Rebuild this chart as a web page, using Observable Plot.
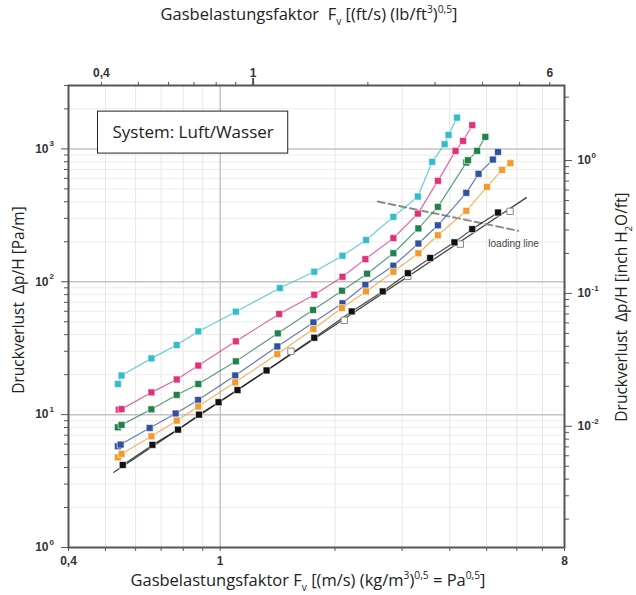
<!DOCTYPE html>
<html><head><meta charset="utf-8">
<script src="https://cdn.jsdelivr.net/npm/d3@7"></script>
<script src="https://cdn.jsdelivr.net/npm/@observablehq/plot@0.6"></script>
<style>body{margin:0;background:#fff} #chart svg{display:block}</style>
</head><body><div id="chart"></div><script>
// ---- data ----
const seriesNames  = ["Serie 1","Serie 2","Serie 3","Serie 4","Serie 5","Serie 6"];
const seriesColors = ["#35bccb","#e0307a","#23804a","#33509f","#f39a2e","#111111"];
const s1X = [0.539,0.551,0.660,0.769,0.876,1.099,1.434,1.765,2.093,2.413,2.846,3.30,3.598,3.878,3.971,4.18];
const s1Y = [17.0,19.7,26.5,33.4,42.3,59.5,89.7,119,157,206,308,438,799,1085,1274,1719];
const s2X = [0.542,0.551,0.660,0.769,0.876,1.099,1.428,1.765,2.093,2.403,2.846,3.30,3.724,4.142,4.334,4.583];
const s2Y = [10.9,11.0,14.7,18.4,23.4,35.6,57.2,79.9,109,148,213,326,575,966,1148,1508];
const s3X = [0.539,0.551,0.660,0.769,0.876,1.099,1.416,1.752,2.087,2.428,2.846,3.31,3.724,4.421,4.466,4.72,4.96];
const s3Y = [8.03,8.37,10.96,14.07,17.0,25.2,40.9,61.3,85.6,115,164,252,366,789,822,966,1231];
const s4X = [0.539,0.548,0.653,0.764,0.875,1.095,1.412,1.756,2.093,2.403,2.846,3.31,3.724,4.421,4.76,5.19,5.354];
const s4Y = [5.78,5.95,7.94,10.2,12.9,19.7,32.6,49.4,68.9,94.9,132,194,266,467,649,831,949];
const s5X = [0.539,0.551,0.660,0.769,0.876,1.095,1.412,1.756,2.085,2.413,2.846,3.31,3.724,4.421,5.009,5.487,5.77];
const s5Y = [4.77,5.06,6.87,9.01,11.5,17.5,28.6,44.1,63.4,84.6,119,164,224,342,518,695,781];
const s6X = [0.555,0.664,0.775,0.880,0.990,1.110,1.323,1.765,2.213,2.669,3.106,3.555,4.116,4.583,5.354];
const s6Y = [4.18,5.92,7.71,10.0,12.4,15.3,21.5,37.9,59.8,84.6,116,151,198,249,332];
const openX = [1.533,2.116,3.106,4.263,5.758];
const openY = [30.0,51.3,110,192,339];
const fitX  = [0.526,6.356];
const fitY  = [3.68,430];
const loadX = [2.59,6.045];
const loadY = [402,242];
const loadLabel = {x: 5.05, y: 193, text: "loading line"};
const boxRect  = {x1: 0.478, x2: 1.508, y1: 922, y2: 1908};
const boxText  = {x: 0.849, y: 1326, text: "System: Luft/Wasser"};

// ---- axes ----
const bottomTicks = [0.4,0.5,0.6,0.7,0.8,0.9,1,2,3,4,5,6,7,8];
const bottomLabelVals = [0.4,1,8];
const bottomLabels = ["0,4","1","8"];
const topTicks = [0.4,0.5,0.6,0.7,0.8,0.9,1,2,3,4,5,6];
const topLabelVals = [0.4,1,6];
const topLabels = ["0,4","1","6"];
const ftPerPa = 0.8197;       // 1 Pa^0.5 = 0.8197 (ft/s)(lb/ft3)^0.5
const leftMajor = [1,10,100,1000];
const leftExp = ["0","1","2","3"];
const leftMinor = [2,3,4,5,6,7,8,9,20,30,40,50,60,70,80,90,200,300,400,500,600,700,800,900,2000,3000];
const rightMajor = [0.01,0.1,1];
const rightExp = ["-2","-1","0"];
const rightMinor = [0.002,0.003,0.004,0.005,0.006,0.007,0.008,0.009,0.02,0.03,0.04,0.05,0.06,0.07,0.08,0.09,0.2,0.3,0.4,0.5,0.6,0.7,0.8,0.9,2,3];
const paPerInch = 817.2;      // 1 inch H2O/ft = 817.2 Pa/m
const gridMinorX = [0.5,0.6,0.7,0.8,0.9,2,3,4,5,6,7];
const gridMajorX = [1];
const gridMajorY = [10,100,1000];
const gridMinorY = leftMinor;

const titleTop = [["Gasbelastungsfaktor\u00A0 F","n"],["v","sub"],[" [(ft/s) (lb/ft","n"],["3","sup"],[")","n"],["0,5","sup"],["]","n"]];
const titleBottom = [["Gasbelastungsfaktor F","n"],["v","sub"],[" [(m/s) (kg/m","n"],["3","sup"],[")","n"],["0,5","sup"],[" = Pa","n"],["0,5","sup"],["]","n"]];
const titleLeft = [["Druckverlust\u00A0 Δp/H [Pa/m]","n"]];
const titleRight = [["Druckverlust\u00A0 Δp/H [inch H","n"],["2","sub"],["O/ft]","n"]];

const seriesX = [s1X, s2X, s3X, s4X, s5X, s6X];
const seriesY = [s1Y, s2Y, s3Y, s4Y, s5Y, s6Y];
const rows = seriesNames.flatMap((s, k) => seriesX[k].map((x, i) => ({series: s, x, y: seriesY[k][i]})));
const openRows = openX.map((x, i) => ({x, y: openY[i]}));
const fitRows = fitX.map((x, i) => ({x, y: fitY[i]}));
const loadRows = loadX.map((x, i) => ({x, y: loadY[i]}));

const TICKFONT = "Liberation Sans, Arial, sans-serif";
const TITLEFONT = "Open Sans, sans-serif";
const tickText = {fontWeight: "bold", fontFamily: TICKFONT, fill: "#333"};

const chart = Plot.plot({
  width: 636, height: 595,
  marginLeft: 68, marginRight: 72, marginTop: 85, marginBottom: 48,
  style: {background: "#fff", overflow: "visible"},
  x: {type: "log", domain: [0.4, 8], axis: null},
  y: {type: "log", domain: [1, 3000], axis: null},
  color: {domain: seriesNames, range: seriesColors},
  marks: [
    Plot.ruleX(gridMinorX, {stroke: "#e6e6e6", strokeWidth: 1}),
    Plot.ruleY(gridMinorY, {stroke: "#ececec", strokeWidth: 1}),
    Plot.ruleX(gridMajorX, {stroke: "#c4c4c4", strokeWidth: 1.5}),
    Plot.ruleY(gridMajorY, {stroke: "#c4c4c4", strokeWidth: 1.5}),
    Plot.rect([boxRect], {x1: "x1", x2: "x2", y1: "y1", y2: "y2", fill: "white", stroke: "#222", strokeWidth: 1}),
    Plot.text([boxText], {x: "x", y: "y", text: "text", fontSize: 17, fontFamily: TITLEFONT, fill: "#222"}),
    Plot.line(fitRows, {x: "x", y: "y", stroke: "#444", strokeWidth: 1.3}),
    Plot.line(loadRows, {x: "x", y: "y", stroke: "#8a8a8a", strokeWidth: 2, strokeDasharray: "7,4"}),
    Plot.line(rows, {x: "x", y: "y", z: "series", stroke: "series", strokeWidth: 1.2, strokeOpacity: 0.75}),
    Plot.dot(openRows, {x: "x", y: "y", symbol: "square", r: 3.6, fill: "white", stroke: "#888", strokeWidth: 1}),
    Plot.dot(rows, {x: "x", y: "y", fill: "series", symbol: "square", r: 3.9, stroke: "white", strokeWidth: 0.6}),
    Plot.text([loadLabel], {x: "x", y: "y", text: "text", textAnchor: "start", fontSize: 10, fontFamily: TICKFONT, fill: "#444"}),
    // bottom axis
    Plot.axisX(bottomTicks, {anchor: "bottom", tickSize: 4, label: null, stroke: "#555", tickFormat: () => ""}),
    Plot.text(bottomLabelVals, {x: d => d, frameAnchor: "bottom", dy: 17, text: (d, i) => bottomLabels[i], fontSize: 12, ...tickText}),
    // top axis (ft units)
    Plot.axisX(topTicks.map(t => t / ftPerPa), {anchor: "top", tickSize: 4, label: null, stroke: "#555", tickFormat: () => ""}),
    Plot.axisX([1 / ftPerPa], {anchor: "top", tickSize: 8, label: null, stroke: "#555", strokeWidth: 2, tickFormat: () => ""}),
    Plot.text(topLabelVals, {x: d => d / ftPerPa, frameAnchor: "top", dy: -17, text: (d, i) => topLabels[i], fontSize: 12, ...tickText}),
    // left axis
    Plot.axisY(leftMinor, {anchor: "left", tickSize: 4, label: null, stroke: "#555", tickFormat: () => ""}),
    Plot.axisY(leftMajor, {anchor: "left", tickSize: 7, label: null, stroke: "#555", tickFormat: () => ""}),
    Plot.text(leftMajor, {y: d => d, frameAnchor: "left", text: () => "10", textAnchor: "end", dx: -20, fontSize: 12, ...tickText}),
    Plot.text(leftMajor, {y: d => d, frameAnchor: "left", text: (d, i) => leftExp[i], textAnchor: "start", dx: -19, dy: -5, fontSize: 8, ...tickText}),
    // right axis (inch H2O/ft)
    Plot.axisY(rightMinor.map(v => v * paPerInch), {anchor: "right", tickSize: 4, label: null, stroke: "#555", tickFormat: () => ""}),
    Plot.axisY(rightMajor.map(v => v * paPerInch), {anchor: "right", tickSize: 7, label: null, stroke: "#555", tickFormat: () => ""}),
    Plot.text(rightMajor, {y: d => d * paPerInch, frameAnchor: "right", text: () => "10", textAnchor: "start", dx: 13, fontSize: 12, ...tickText}),
    Plot.text(rightMajor, {y: d => d * paPerInch, frameAnchor: "right", text: (d, i) => rightExp[i], textAnchor: "start", dx: 27, dy: -5, fontSize: 8, ...tickText}),
    Plot.frame({stroke: "#555", strokeWidth: 2})
  ]
});

function richText(svg, parts, {x, y, size, rotate}) {
  const t = d3.select(svg).append("text")
    .attr("font-family", TITLEFONT).attr("font-size", size).attr("fill", "#222").attr("text-anchor", "middle");
  if (rotate) t.attr("transform", `translate(${x},${y}) rotate(${rotate})`);
  else t.attr("x", x).attr("y", y);
  let cur = 0;
  for (const [s, k] of parts) {
    const off = k === "sup" ? -0.42 * size : k === "sub" ? 0.3 * size : 0;
    t.append("tspan").attr("dy", off - cur).attr("font-size", k === "n" ? size : size * 0.62).text(s);
    cur = off;
  }
}
richText(chart, titleTop, {x: 309, y: 20, size: 16.5});
richText(chart, titleBottom, {x: 308, y: 586, size: 16.5});
richText(chart, titleLeft, {x: 24, y: 300, size: 15.5, rotate: -90});
richText(chart, titleRight, {x: 627, y: 307, size: 15.5, rotate: -90});

document.getElementById("chart").appendChild(chart);
</script></body></html>
